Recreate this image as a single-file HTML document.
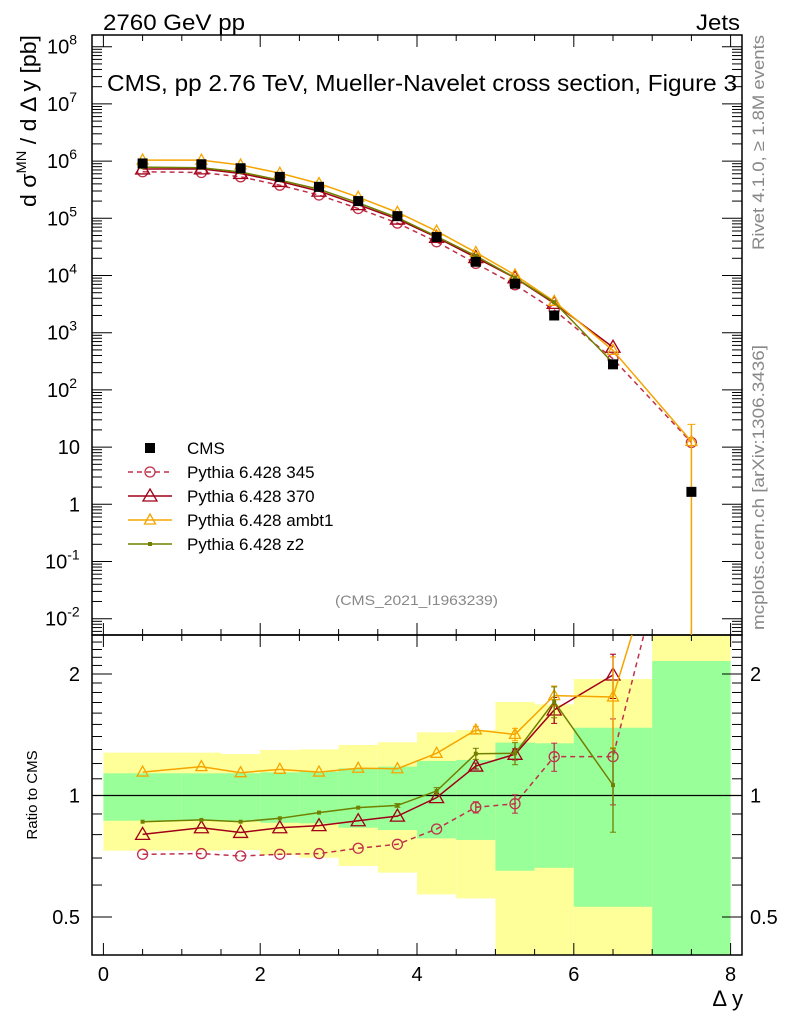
<!DOCTYPE html>
<html><head><meta charset="utf-8"><style>
html,body{margin:0;padding:0;background:#fff;}
svg text{font-family:"Liberation Sans",sans-serif;}
</style></head><body>
<svg id="c" width="786" height="1024" viewBox="0 0 786 1024" xmlns="http://www.w3.org/2000/svg">
<g id="bands"></g>
<g id="grid"></g>
<g id="series"></g>
<text x="103" y="30" font-size="22" textLength="142" lengthAdjust="spacingAndGlyphs">2760 GeV pp</text>
<text x="696" y="30" font-size="22" textLength="44" lengthAdjust="spacingAndGlyphs">Jets</text>
<text x="107" y="91" font-size="23" textLength="630" lengthAdjust="spacingAndGlyphs">CMS, pp 2.76 TeV, Mueller-Navelet cross section, Figure 3</text>
<text x="335" y="605" font-size="14" fill="#888" textLength="163" lengthAdjust="spacingAndGlyphs">(CMS_2021_I1963239)</text>
<text transform="translate(764,250) rotate(-90)" font-size="17" fill="#888" textLength="215" lengthAdjust="spacingAndGlyphs">Rivet 4.1.0, ≥ 1.8M events</text>
<text transform="translate(764,630) rotate(-90)" font-size="17" fill="#888" textLength="285" lengthAdjust="spacingAndGlyphs">mcplots.cern.ch [arXiv:1306.3436]</text>
<text transform="translate(36,207) rotate(-90)" font-size="22" textLength="172" lengthAdjust="spacingAndGlyphs">d σ<tspan dy="-10" font-size="14">MN</tspan><tspan dy="10"> / d Δ y [pb]</tspan></text>
<text transform="translate(37,795) rotate(-90)" font-size="15" text-anchor="middle">Ratio to CMS</text>
<text x="743" y="1006" font-size="22" text-anchor="end">Δ y</text>
<g id="legend"></g>
</svg>
<script>
const xs = [0.5,1.25,1.75,2.25,2.75,3.25,3.75,4.25,4.75,5.25,5.75,6.5,7.5];
const cmsVals = [9.1e5,8.8e5,7.5e5,5.3e5,3.55e5,2.0e5,1.09e5,4.7e4,1.74e4,7.2e3,2.0e3,280,1.65];
const r345 = [0.715,0.718,0.708,0.715,0.718,0.740,0.757,0.826,0.935,0.954,1.248,1.248,7.3];
const r370 = [0.801,0.832,0.810,0.832,0.842,0.866,0.889,0.988,1.183,1.265,1.629,1.989];
const rAmbt1 = [1.143,1.179,1.139,1.161,1.143,1.168,1.165,1.272,1.453,1.417,1.768,1.754,7.6];
const rZ2 = [0.861,0.870,0.861,0.878,0.907,0.933,0.945,1.026,1.269,1.272,1.708,1.061];
const rErr345 = [0,0,0,0,0,0,0,0,0.03,0.05,0.1,0.3,0];
const rErr370 = [0,0,0,0,0,0,0,0,0.02,0.04,0.12,0.25];
const rErrAmbt1 = [0,0,0,0,0,0,0,0,0.03,0.05,0.1,0.45,0];
const rErrZ2 = [0,0,0,0,0,0,0.01,0.02,0.04,0.08,0.15,0.25];
const binEdges = [0,1,1.5,2,2.5,3,3.5,4,4.5,5,5.5,6,7,8];
const g1Up = [1.135,1.135,1.135,1.141,1.146,1.168,1.179,1.218,1.225,1.352,1.347,1.472,2.154];
const g1Dn = [0.866,0.866,0.862,0.856,0.853,0.832,0.821,0.783,0.776,0.651,0.662,0.530,0.3];
const g2Up = [1.277,1.277,1.267,1.296,1.301,1.334,1.355,1.434,1.453,1.705,1.682,1.944,3];
const g2Dn = [0.730,0.730,0.733,0.712,0.701,0.669,0.644,0.569,0.556,0.3,0.3,0.3,0.3];
const xTicks = [0,2,4,6,8];
const mainDecades = [8,7,6,5,4,3,2,1,0,-1,-2];
const ratioTicks = [0.5,1,2];

const NS="http://www.w3.org/2000/svg";
const L=92,R=742,T=35,MB=635,RB=955;
const X=v=>103.4+v*78.4;
const Y=v=>218.3+57.2*(5-Math.log10(v));
const YR=r=>795.5-121.5*Math.log2(r);
function mk(tag,at,par){const e=document.createElementNS(NS,tag);for(const k in at)e.setAttribute(k,at[k]);(par||document.getElementById('c')).appendChild(e);return e;}
const bands=document.getElementById('bands'),grid=document.getElementById('grid'),ser=document.getElementById('series'),leg=document.getElementById('legend');
const defs=mk('defs',{});
const cp=mk('clipPath',{id:'cm'},defs);mk('rect',{x:L,y:T,width:R-L,height:MB-T},cp);
const cr=mk('clipPath',{id:'cr'},defs);mk('rect',{x:L,y:MB,width:R-L,height:RB-MB},cr);
bands.setAttribute('clip-path','url(#cr)');
for(let i=0;i<binEdges.length-1;i++){
  const x0=X(binEdges[i]),x1=X(binEdges[i+1]);
  const b=mk('rect',{x:x0,y:YR(g2Up[i]),width:x1-x0,height:YR(g2Dn[i])-YR(g2Up[i]),fill:'#ffff99'},bands);
  
  
  const g=mk('rect',{x:x0,y:YR(g1Up[i]),width:x1-x0,height:YR(g1Dn[i])-YR(g1Up[i]),fill:'#99ff99'},bands);
  
  
}
mk('rect',{x:L,y:T,width:R-L,height:MB-T,fill:'none',stroke:'#000','stroke-width':1.5},grid);
mk('rect',{x:L,y:MB,width:R-L,height:RB-MB,fill:'none',stroke:'#000','stroke-width':1.5},grid);
mk('line',{x1:L,x2:R,y1:YR(1),y2:YR(1),stroke:'#000','stroke-width':1.2},grid);
for(let v=0;v<=8.001;v+=0.5){
  const maj=Math.abs(v-Math.round(v/2)*2)<1e-6;
  const len=maj?12:6;
  [[T,1],[MB,-1],[MB,1],[RB,-1]].forEach(([y,d])=>mk('line',{x1:X(v),x2:X(v),y1:y,y2:y+d*len,stroke:'#000'},grid));
}
xTicks.forEach(v=>{const t=mk('text',{x:X(v),y:981,'font-size':20,'text-anchor':'middle'},grid);t.textContent=v;
 
 });
mainDecades.forEach(d=>{
  const y=Y(Math.pow(10,d));
  mk('line',{x1:L,x2:L+20,y1:y,y2:y,stroke:'#000'},grid);mk('line',{x1:R,x2:R-20,y1:y,y2:y,stroke:'#000'},grid);
  if(d>-2)for(let m=2;m<=9;m++){const ym=Y(m*Math.pow(10,d-1));if(ym>MB)continue;mk('line',{x1:L,x2:L+10,y1:ym,y2:ym,stroke:'#000'},grid);mk('line',{x1:R,x2:R-10,y1:ym,y2:ym,stroke:'#000'},grid);}
  const t=mk('text',{x:80,y:y+7,'font-size':20,'text-anchor':'end'},grid);
  
  
  if(d===1)t.textContent='10';else if(d===0)t.textContent='1';
  else{t.textContent='10';const s=mk('tspan',{dy:-9,'font-size':14},t);s.textContent=d;
    t.setAttribute('x',d<0?45:47);t.setAttribute('text-anchor','start');}
});
for(let m=2;m<=9;m++){const ym=Y(m*1e-3);if(ym<MB){mk('line',{x1:L,x2:L+10,y1:ym,y2:ym,stroke:'#000'},grid);mk('line',{x1:R,x2:R-10,y1:ym,y2:ym,stroke:'#000'},grid);}}
[0.4,0.5,0.6,0.7,0.8,0.9,1,1.1,1.2,1.3,1.4,1.5,1.6,1.7,1.8,1.9,2,2.1,2.2,2.3,2.4].forEach(r=>{
 const y=YR(r);if(y<MB||y>RB)return;const maj=ratioTicks.includes(r);const len=maj?20:10;
 mk('line',{x1:L,x2:L+len,y1:y,y2:y,stroke:'#000'},grid);mk('line',{x1:R,x2:R-len,y1:y,y2:y,stroke:'#000'},grid);});
ratioTicks.forEach(r=>{
 const t1=mk('text',{x:80,y:YR(r)+7,'font-size':20,'text-anchor':'end'},grid);t1.textContent=r;
 
 
 const t2=mk('text',{x:750,y:YR(r)+7,'font-size':20},grid);t2.textContent=r;
 
 });
function marker(type,x,y,col,par,size){
 const s=size||1;
 if(type==='sq')return mk('rect',{x:x-5*s,y:y-5*s,width:10*s,height:10*s,fill:'#000'},par);
 if(type==='circ')return mk('circle',{cx:x,cy:y,r:5*s,fill:'none',stroke:col,'stroke-width':1.3},par);
 if(type==='tri')return mk('path',{d:`M${x},${y-7*s}L${x+7*s},${y+5*s}L${x-7*s},${y+5*s}Z`,fill:'none',stroke:col,'stroke-width':1.3},par);
 if(type==='tri2')return mk('path',{d:`M${x},${y-6*s}L${x+5.5*s},${y+4*s}L${x-5.5*s},${y+4*s}Z`,fill:'none',stroke:col,'stroke-width':1.3},par);
 if(type==='dot')return mk('rect',{x:x-2,y:y-2,width:4,height:4,fill:col},par);
}
const gm=mk('g',{'clip-path':'url(#cm)'},ser),gr=mk('g',{'clip-path':'url(#cr)'},ser);
const defsS=[
 {name:'pythia-345',r:r345,e:rErr345,col:'#c0304a',dash:'5,4',m:'circ',lab:'Pythia 6.428 345'},
 {name:'pythia-370',r:r370,e:rErr370,col:'#a00018',dash:'',m:'tri',lab:'Pythia 6.428 370'},
 {name:'pythia-ambt1',r:rAmbt1,e:rErrAmbt1,col:'#f5a500',dash:'',m:'tri2',lab:'Pythia 6.428 ambt1'},
 {name:'pythia-z2',r:rZ2,e:rErrZ2,col:'#708000',dash:'',m:'dot',lab:'Pythia 6.428 z2'}];
defsS.forEach(s=>{
 const mainPts=s.r.map((r,i)=>[X(xs[i]),Y(r*cmsVals[i])]);
 const ratPts=s.r.map((r,i)=>[X(xs[i]),YR(r)]);
 [[gm,mainPts,false],[gr,ratPts,true]].forEach(([par,pts,isR])=>{
  const g=mk('g',{},par);
  
  
  mk('polyline',{points:pts.map(p=>p.join(',')).join(' '),fill:'none',stroke:s.col,'stroke-width':1.5,'stroke-dasharray':s.dash},g);
  pts.forEach((p,i)=>{
   if(isR&&s.e[i]>0){const y1=YR(s.r[i]+s.e[i]),y2=YR(Math.max(0.3,s.r[i]-s.e[i]));
    mk('line',{x1:p[0],x2:p[0],y1:y1,y2:y2,stroke:s.col,'stroke-width':1.3},g);
    mk('line',{x1:p[0]-3,x2:p[0]+3,y1:y1,y2:y1,stroke:s.col},g);mk('line',{x1:p[0]-3,x2:p[0]+3,y1:y2,y2:y2,stroke:s.col},g);}
   const m=marker(s.m,p[0],p[1],s.col,g);
   
   
  });
 });
});
mk('line',{x1:X(7.5),x2:X(7.5),y1:Y(25),y2:MB,stroke:'#f5a500','stroke-width':1.5},gm);
mk('line',{x1:X(7.5)-4,x2:X(7.5)+4,y1:Y(25),y2:Y(25),stroke:'#f5a500'},gm);
cmsVals.forEach((v,i)=>{const m=marker('sq',X(xs[i]),Y(v),'#000',gm);
 
 });
const legItems=[{m:'sq',col:'#000',lab:'CMS',dash:null}].concat(defsS.map(s=>({m:s.m,col:s.col,lab:s.lab,dash:s.dash})));
legItems.forEach((it,i)=>{
 const y=448+i*24;const g=mk('g',{},leg);
 
 
 if(it.dash!==null)mk('line',{x1:128,x2:172,y1:y,y2:y,stroke:it.col,'stroke-width':1.5,'stroke-dasharray':it.dash},g);
 marker(it.m,150,y,it.col,g);
 const t=mk('text',{x:187,y:y+6,'font-size':17},g);t.textContent=it.lab;
});
</script>
</body></html>
